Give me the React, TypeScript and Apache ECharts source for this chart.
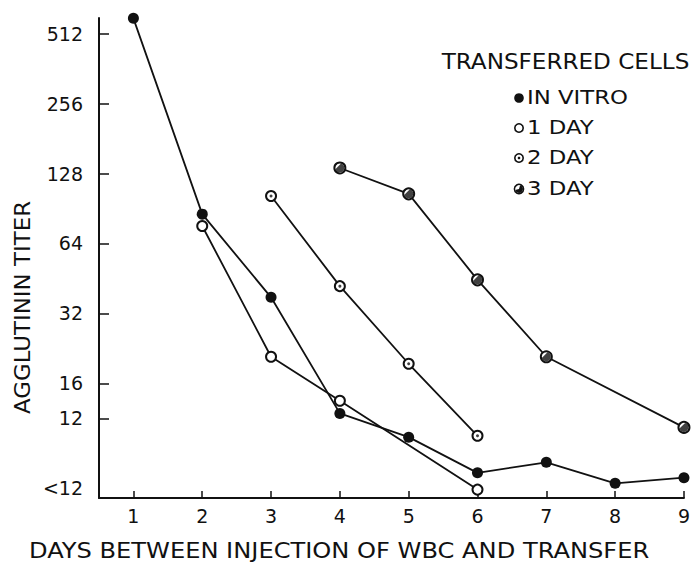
import React, { useEffect, useRef } from 'react';
import * as echarts from 'echarts';

// Y positions are in doubling steps (log2 of titer); the lower part of the
// scale (12 and <12) follows the original drawing's spacing.
const yTickValues = [9, 8, 7, 6, 5, 4, 3.5];
const yLabelValues = [9, 8, 7, 6, 5, 4, 3.5, 2.5];
const yLabelTexts = ['512', '256', '128', '64', '32', '16', '12', '<12'];
const xTickValues = [1, 2, 3, 4, 5, 6, 7, 8, 9];

const inVitroDays = [1, 2, 3, 4, 5, 6, 7, 8, 9];
const inVitroTiter = [9.22, 6.42, 5.23, 3.57, 3.23, 2.72, 2.87, 2.57, 2.65];
const oneDayDays = [2, 3, 4, 6];
const oneDayTiter = [6.25, 4.38, 3.75, 2.48];
const twoDayDays = [3, 4, 5, 6];
const twoDayTiter = [6.68, 5.39, 4.28, 3.25];
const threeDayDays = [4, 5, 6, 7, 9];
const threeDayTiter = [7.08, 6.71, 5.48, 4.38, 3.37];

const seriesNames = ['IN VITRO', '1 DAY', '2 DAY', '3 DAY'];
const legendTitle = 'TRANSFERRED CELLS';
const xTitle = 'DAYS BETWEEN INJECTION OF WBC AND TRANSFER';
const yTitle = 'AGGLUTININ TITER';

const INK = '#111';
const FONT = 'DejaVu Sans';
const CHORD = 'path://M1.01,-3.56A3.7,3.7 0 1 1 -3.56,1.01Z';

const pairs = (d: number[], v: number[]) => d.map((x, i) => [x, v[i]]);

export default function App() {
  const ref = useRef<HTMLDivElement>(null);
  useEffect(() => {
    if (!ref.current) return;
    const chart = echarts.init(ref.current, null, { renderer: 'svg' });
    const lineStyle = { color: INK, width: 1.8 };
    const legendY = [98, 128, 158, 189];
    const legendX = 519;
    const option: any = {
      animation: false,
      backgroundColor: '#fff',
      grid: { left: 99, right: 4, top: 18, bottom: 65 },
      xAxis: {
        type: 'value',
        min: 0.5,
        max: 9,
        axisLine: { show: true, lineStyle: { color: INK, width: 2 } },
        axisTick: { show: true, inside: true, length: 7, customValues: xTickValues, lineStyle: { color: INK, width: 1.5 } },
        axisLabel: { customValues: xTickValues, color: INK, fontSize: 19, fontFamily: FONT, margin: 8 },
        splitLine: { show: false },
      },
      yAxis: {
        type: 'value',
        min: 2.36,
        max: 9.225,
        axisLine: { show: true, lineStyle: { color: INK, width: 2 } },
        axisTick: { show: true, inside: true, length: 10, customValues: yTickValues, lineStyle: { color: INK, width: 1.5 } },
        axisLabel: {
          customValues: yLabelValues,
          color: INK,
          fontSize: 19,
          fontFamily: FONT,
          margin: 16,
          formatter: (v: number) => {
            const i = yLabelValues.findIndex((p) => Math.abs(p - v) < 1e-6);
            return i >= 0 ? yLabelTexts[i] : '';
          },
        },
        splitLine: { show: false },
      },
      series: [
        {
          name: seriesNames[0], type: 'line', data: pairs(inVitroDays, inVitroTiter), clip: false,
          symbol: 'circle', symbolSize: 11, itemStyle: { color: INK }, lineStyle,
        },
        {
          name: seriesNames[1], type: 'line', data: pairs(oneDayDays, oneDayTiter), clip: false,
          symbol: 'emptyCircle', symbolSize: 10, itemStyle: { color: INK, borderWidth: 1.8 }, lineStyle,
        },
        {
          name: seriesNames[2], type: 'line', data: pairs(twoDayDays, twoDayTiter), clip: false,
          symbol: 'emptyCircle', symbolSize: 10, itemStyle: { color: INK, borderWidth: 1.8 }, lineStyle,
        },
        {
          name: seriesNames[3], type: 'line', data: pairs(threeDayDays, threeDayTiter), clip: false,
          symbol: 'emptyCircle', symbolSize: 11, itemStyle: { color: INK, borderWidth: 1.6 }, lineStyle,
        },
        {
          name: seriesNames[2] + ' centre', type: 'scatter', data: pairs(twoDayDays, twoDayTiter), silent: true, z: 5,
          symbol: 'circle', symbolSize: 3, itemStyle: { color: INK },
        },
        {
          name: seriesNames[3] + ' fill', type: 'scatter', data: pairs(threeDayDays, threeDayTiter), silent: true, z: 5,
          symbol: CHORD, symbolSize: 9, itemStyle: { color: INK },
        },
      ],
      graphic: [
        {
          type: 'text', x: 565.5, y: 62, scaleX: 1.1,
          style: { text: legendTitle, fontSize: 21, fontFamily: FONT, fill: INK, textAlign: 'center', textVerticalAlign: 'middle', verticalAlign: 'middle' },
        },
        { type: 'circle', x: legendX, y: legendY[0], shape: { cx: 0, cy: 0, r: 4.8 }, style: { fill: INK } },
        { type: 'circle', x: legendX, y: legendY[1], shape: { cx: 0, cy: 0, r: 4.2 }, style: { fill: '#fff', stroke: INK, lineWidth: 1.6 } },
        { type: 'circle', x: legendX, y: legendY[2], shape: { cx: 0, cy: 0, r: 4.2 }, style: { fill: '#fff', stroke: INK, lineWidth: 1.6 } },
        { type: 'circle', x: legendX, y: legendY[2], shape: { cx: 0, cy: 0, r: 1.3 }, style: { fill: INK } },
        { type: 'circle', x: legendX, y: legendY[3], shape: { cx: 0, cy: 0, r: 4.6 }, style: { fill: '#fff', stroke: INK, lineWidth: 1.5 } },
        {
          type: 'sector', x: legendX, y: legendY[3],
          shape: { cx: 0, cy: 0, r: 4, r0: 0, startAngle: (-74 * Math.PI) / 180, endAngle: (164 * Math.PI) / 180, clockwise: true },
          style: { fill: INK },
        },
        ...seriesNames.map((n, i) => ({
          type: 'text', x: 527, y: legendY[i], scaleX: 1.2,
          style: { text: n, fontSize: 19, fontFamily: FONT, fill: INK, textAlign: 'left', textVerticalAlign: 'middle', verticalAlign: 'middle' },
        })),
        {
          type: 'text', x: 29, y: 551, scaleX: 1.15,
          style: { text: xTitle, fontSize: 21, fontFamily: FONT, fill: INK, textAlign: 'left', textVerticalAlign: 'middle', verticalAlign: 'middle' },
        },
        {
          type: 'text', x: 23, y: 307.5, rotation: Math.PI / 2, scaleX: 1.09,
          style: { text: yTitle, fontSize: 21, fontFamily: FONT, fill: INK, textAlign: 'center', textVerticalAlign: 'middle', verticalAlign: 'middle' },
        },
      ],
    };
    chart.setOption(option);
    return () => chart.dispose();
  }, []);
  return <div ref={ref} style={{ position: 'fixed', left: 0, top: 0, width: 693, height: 563 }} />;
}
